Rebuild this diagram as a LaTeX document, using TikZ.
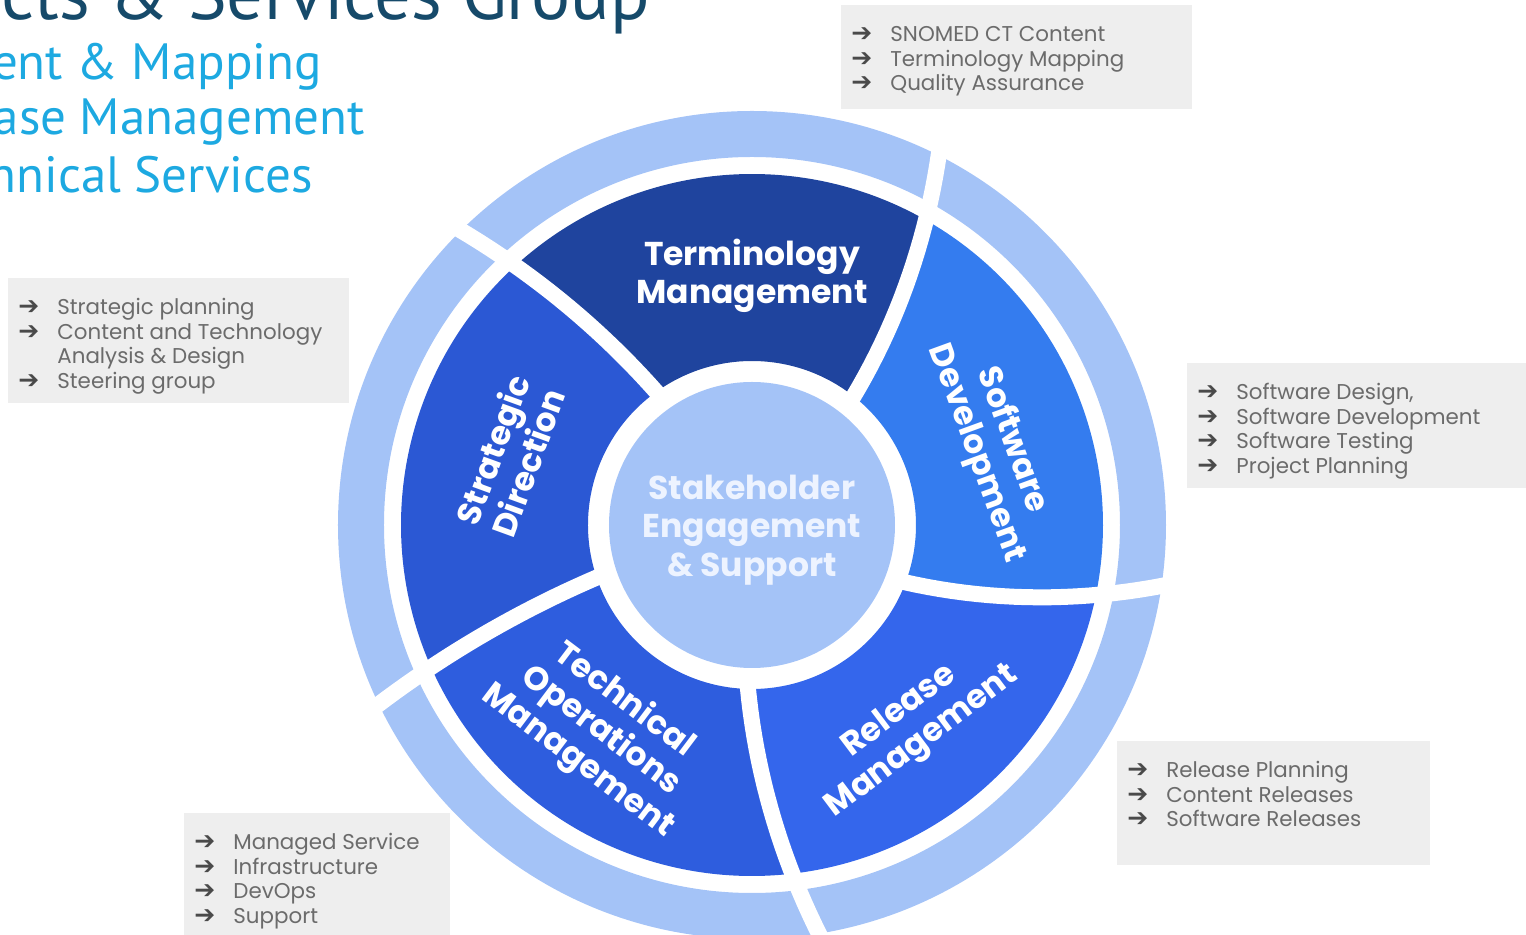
\documentclass[tikz,border=0pt]{standalone}
\usepackage{fontspec}
\setmainfont{Poppins}
\newfontfamily\titlefont{PT Sans}
\newfontfamily\arrowfont{DejaVu Sans}
\usetikzlibrary{calc}
\definecolor{ringblue}{HTML}{A4C3F7}
\definecolor{termblue}{HTML}{1F449E}
\definecolor{stratblue}{HTML}{2B58D4}
\definecolor{softblue}{HTML}{347CEF}
\definecolor{relblue}{HTML}{3466EC}
\definecolor{techblue}{HTML}{2E5DDE}
\definecolor{boxgray}{HTML}{EEEEEE}
\definecolor{textgray}{HTML}{6B6B6B}
\definecolor{arrowgray}{HTML}{4A4A4A}
\definecolor{titlenavy}{HTML}{164A6A}
\definecolor{titlecyan}{HTML}{1DA9E1}
\definecolor{centertext}{HTML}{EDF3FF}
% segment between gap (a1->b1) and gap (a2->b2), inner r 164, outer r 351
\newcommand{\drawsegment}[5]{%
  \fill[#1] plot[domain=164:351, samples=14] ({#2+(#3-#2)*(\x-164)/187}:\x)
    arc[start angle=#3, end angle=#5, radius=351]
    -- plot[domain=351:164, samples=14] ({#4+(#5-#4)*(\x-164)/187}:\x)
    arc[start angle=#4, end angle=#2, radius=164] -- cycle;}
\newcommand{\drawgap}[2]{%
  \draw[gapline] plot[domain=150:430, samples=24] ({#1+(#2-#1)*(\x-164)/187}:\x);}
\newcommand{\arrowmark}{\makebox[19.5pt][l]{\color{arrowgray}\arrowfont\fontsize{12.5}{12.25}\selectfont ➔}}
\tikzset{
  gapline/.style={white, line width=8pt},
  titleA/.style={font=\titlefont\fontsize{36.5}{40}\selectfont, text=titlenavy, inner sep=0, anchor=base east},
  titleB/.style={font=\titlefont\fontsize{25.5}{28}\selectfont, text=titlecyan, inner sep=0, anchor=base east},
  seglabel/.style={text=white, font=\fontsize{16.5}{19}\selectfont\bfseries, align=center, inner sep=0},
  infobox/.style={fill=boxgray, anchor=north west, inner sep=0},
  listtext/.style={text=textgray, font=\fontsize{10.7}{12.25}\selectfont, anchor=base west, inner sep=0},
  centerdisc/.style={circle, fill=ringblue, minimum size=143pt, inner sep=0}
}
\begin{document}
\begin{tikzpicture}[x=0.5pt,y=0.5pt]
\useasboundingbox (-752,-410) rectangle (774,525);
\clip (-752,-410) rectangle (774,525);

% titles
\node[titleA] (title) at (-102,505) {Products \& Services Group};
\node[titleB] (tcontent) at (-430,445) {Content \& Mapping};
\node[titleB] (trelease) at (-387,390) {Release Management};
\node[titleB] (ttech) at (-439,332) {Technical Services};

% outer ring
\fill[ringblue, even odd rule] (0,0) circle (414) (0,0) circle (368);

% segments
\drawsegment{softblue}{-20.5}{-11.5}{51.7}{60.3}
\drawsegment{termblue}{51.7}{60.3}{125.7}{132.4}
\drawsegment{stratblue}{125.7}{132.4}{198.7}{203.9}
\drawsegment{techblue}{198.7}{203.9}{268.6}{276.6}
\drawsegment{relblue}{268.6}{276.6}{339.5}{348.5}

% gaps
\drawgap{-20.5}{-11.5}
\drawgap{51.7}{60.3}
\drawgap{125.7}{132.4}
\drawgap{198.7}{203.9}
\drawgap{268.6}{276.6}

% center
\node[centerdisc] (center) at (0,0) {};
\node[text=centertext, font=\fontsize{16.5}{19.25}\selectfont\bfseries, align=center, inner sep=0] (centerlabel) at (center) [yshift=-2.5pt] {Stakeholder\\Engagement\\\& Support};

% segment labels
\node[seglabel] (lterm) at (0,249) {Terminology\\Management};
\node[seglabel, rotate=70] (lstrat) at (-242,69) {Strategic\\Direction};
\node[seglabel, rotate=-70] (lsoft) at (242,78) {Software\\Development};
\node[seglabel, rotate=37] (lrel) at (159,-202) {Release\\Management};
\node[seglabel, rotate=-37] (ltech) at (-151,-206) {Technical\\Operations\\Management};

% info boxes
\node[infobox, minimum width=175.5pt, minimum height=52pt] (boxterm) at (89,520) {};
\node[listtext] (listterm) at (99,483) {\begin{tabular}[t]{@{}l@{}l@{}}
\arrowmark & SNOMED CT Content\\
\arrowmark & Terminology Mapping\\
\arrowmark & Quality Assurance
\end{tabular}};

\node[infobox, minimum width=170.5pt, minimum height=62.5pt] (boxstrat) at (-744,247) {};
\node[listtext] (liststrat) at (-734,210) {\begin{tabular}[t]{@{}l@{}l@{}}
\arrowmark & Strategic planning\\
\arrowmark & Content and Technology\\
\makebox[19.5pt]{} & Analysis \& Design\\
\arrowmark & Steering group
\end{tabular}};

\node[infobox, minimum width=169.5pt, minimum height=62.5pt] (boxsoft) at (435,162) {};
\node[listtext] (listsoft) at (445,125) {\begin{tabular}[t]{@{}l@{}l@{}}
\arrowmark & Software Design,\\
\arrowmark & Software Development\\
\arrowmark & Software Testing\\
\arrowmark & Project Planning
\end{tabular}};

\node[infobox, minimum width=156.5pt, minimum height=62pt] (boxrel) at (365,-216) {};
\node[listtext] (listrel) at (375,-253) {\begin{tabular}[t]{@{}l@{}l@{}}
\arrowmark & Release Planning\\
\arrowmark & Content Releases\\
\arrowmark & Software Releases
\end{tabular}};

\node[infobox, minimum width=133pt, minimum height=66pt] (boxtech) at (-568,-288) {};
\node[listtext] (listtech) at (-558,-325) {\begin{tabular}[t]{@{}l@{}l@{}}
\arrowmark & Managed Service\\
\arrowmark & Infrastructure\\
\arrowmark & DevOps\\
\arrowmark & Support
\end{tabular}};
\end{tikzpicture}
\end{document}
